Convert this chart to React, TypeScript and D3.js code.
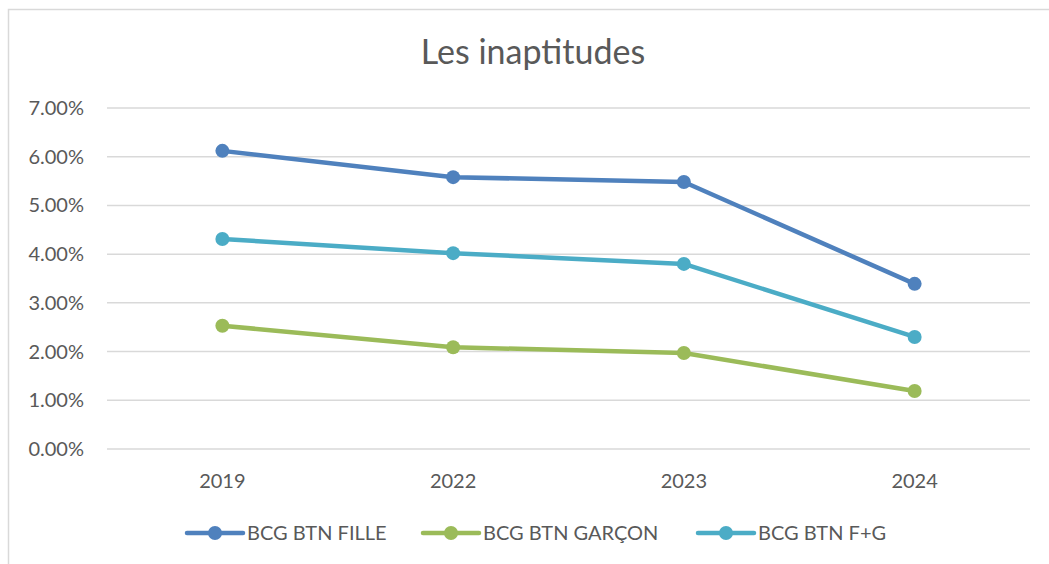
import React from "react";
import * as d3 from "d3";

const years = ["2019", "2022", "2023", "2024"];
const fille = [0.0612, 0.0558, 0.0548, 0.0339];
const garcon = [0.0253, 0.0209, 0.0197, 0.0119];
const fg = [0.0431, 0.0402, 0.038, 0.023];
const yTicks = [0, 0.01, 0.02, 0.03, 0.04, 0.05, 0.06, 0.07];

const series = [
  { name: "BCG BTN FILLE", values: fille, color: "#4f81bd", legendX: 187 },
  { name: "BCG BTN GARÇON", values: garcon, color: "#9bbb59", legendX: 423 },
  { name: "BCG BTN F+G", values: fg, color: "#4bacc6", legendX: 698 },
];

const W = 1049;
const H = 564;
const FONT = "Lato, 'Open Sans', sans-serif";

const App = () => {
  const x = d3.scaleBand().domain(years).range([107, 1030]);
  const y = d3.scaleLinear().domain([0, 0.07]).range([449, 108]);
  const fmt = d3.format(".2%");

  const line = d3
    .line<number>()
    .x((_, i) => x(years[i])! + x.bandwidth() / 2)
    .y((d) => y(d));

  return (
    <div style={{ position: "fixed", left: 0, top: 0 }}>
      <svg width={W} height={H} style={{ display: "block", background: "#fff" }}>
        <rect x={8.5} y={9.5} width={W + 10} height={H + 10} fill="#fff" stroke="#d9d9d9" strokeWidth={1.5} />
        <text x={533} y={64} textAnchor="middle" fontSize={34} fill="#595959" fontFamily={FONT}>
          Les inaptitudes
        </text>

        {yTicks.map((t) => (
          <g key={t}>
            <line x1={107} x2={1030} y1={y(t)} y2={y(t)} stroke="#d9d9d9" strokeWidth={1.5} />
            <text x={84} y={y(t)} dy="0.35em" textAnchor="end" fontSize={20} fill="#595959" fontFamily={FONT}>
              {fmt(t)}
            </text>
          </g>
        ))}

        {years.map((yr) => (
          <text
            key={yr}
            x={x(yr)! + x.bandwidth() / 2}
            y={481}
            dy="0.35em"
            textAnchor="middle"
            fontSize={20}
            fill="#595959"
            fontFamily={FONT}
          >
            {yr}
          </text>
        ))}

        {series.map((s) => (
          <g key={s.name}>
            <path d={line(s.values) || ""} fill="none" stroke={s.color} strokeWidth={4.5} strokeLinecap="round" strokeLinejoin="round" />
            {s.values.map((v, i) => (
              <circle key={i} cx={x(years[i])! + x.bandwidth() / 2} cy={y(v)} r={7} fill={s.color} />
            ))}
          </g>
        ))}

        {series.map((s) => (
          <g key={s.name} transform={`translate(${s.legendX},533)`}>
            <line x1={0} x2={56} y1={0} y2={0} stroke={s.color} strokeWidth={4.5} strokeLinecap="round" />
            <circle cx={28} cy={0} r={7} fill={s.color} />
            <text x={60} y={0} dy="0.35em" fontSize={20} fill="#595959" fontFamily={FONT}>
              {s.name}
            </text>
          </g>
        ))}
      </svg>
    </div>
  );
};

export default App;
